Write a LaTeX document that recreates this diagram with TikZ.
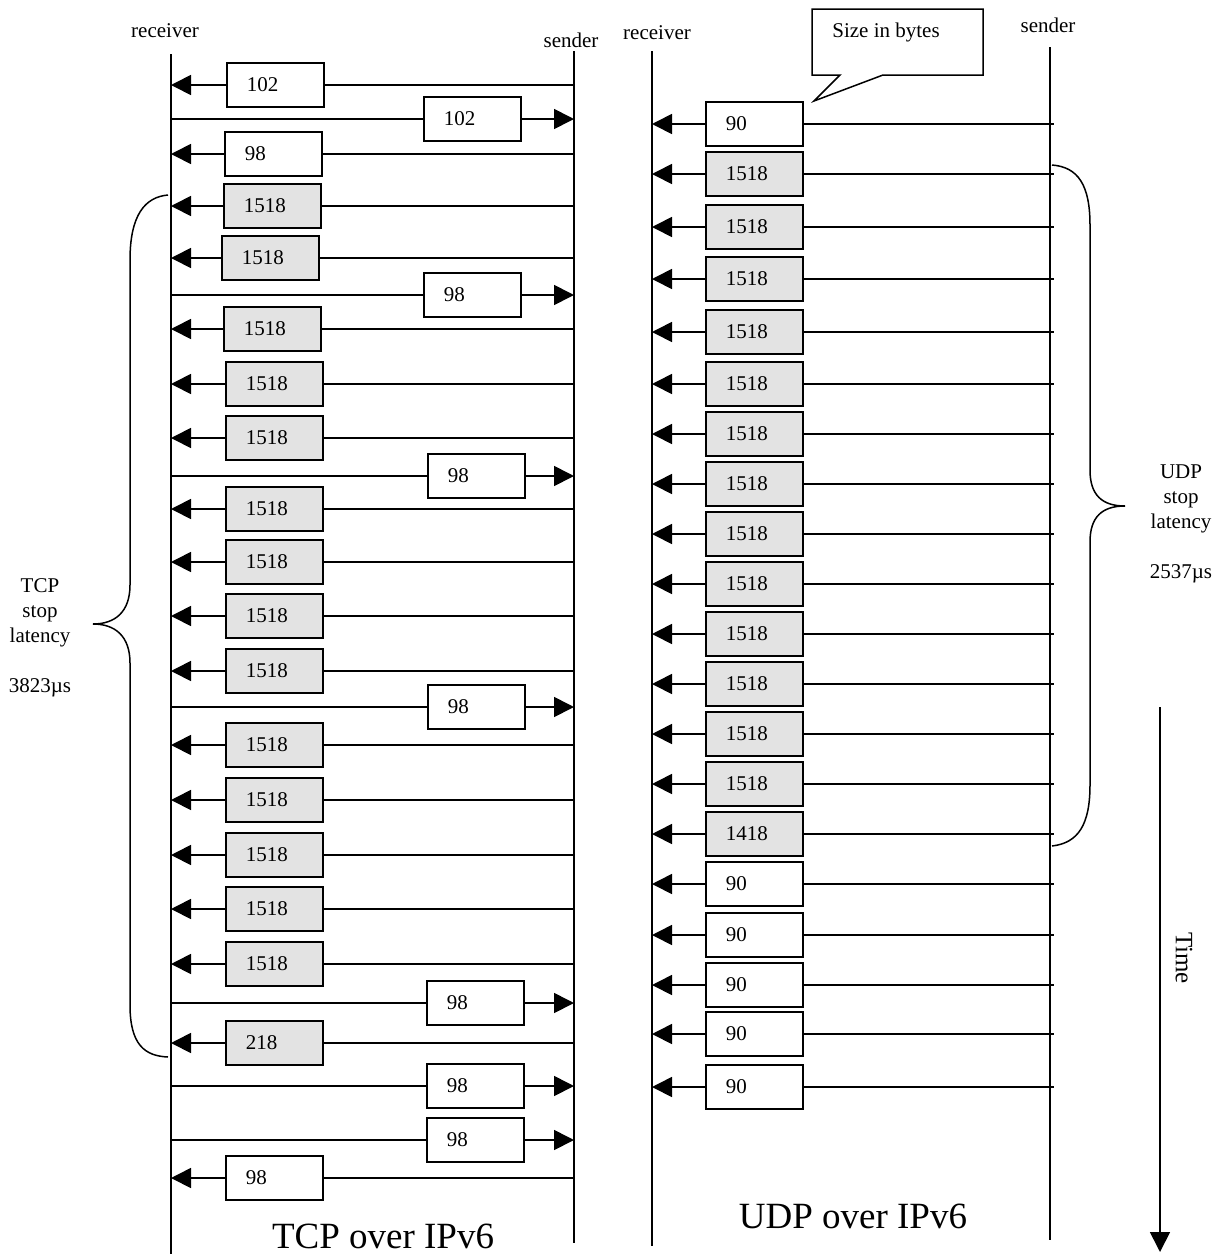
\documentclass[tikz,border=0pt]{standalone}
\usepackage{fontspec}
\setmainfont{Liberation Serif}
\usepackage{xcolor}
\definecolor{pktgray}{HTML}{E3E3E3}
\usetikzlibrary{arrows.meta, positioning, calc}

\begin{document}
\begin{tikzpicture}[
    x=1pt, y=-1pt,
    every node/.style={font=\fontsize{21}{25}\selectfont},
    pkt/.style={draw, line width=1.8pt, fill=white, anchor=west,
                minimum height=44pt, text width=57pt,
                inner xsep=20pt, inner ysep=0pt, align=left},
    msg/.style={line width=1.7pt, -{Triangle[length=20pt, width=20pt]}},
    wire/.style={line width=1.7pt},
    life/.style={line width=1.7pt},
    brace/.style={line width=1.5pt},
    title/.style={font=\fontsize{37}{44}\selectfont},
]
\useasboundingbox (0,0) rectangle (1214,1256);

% --- Lifelines (TCP left, UDP right) ---
\coordinate (tR)  at (171,54);     % TCP receiver
\coordinate (tRb) at (171,1254);
\coordinate (tS)  at (574,51);     % TCP sender
\coordinate (tSb) at (574,1243);
\coordinate (uR)  at (652,51);     % UDP receiver
\coordinate (uRb) at (652,1246);
\coordinate (uS)  at (1050,47);    % UDP sender
\coordinate (uSb) at (1050,1240);
\coordinate (uE)  at (1054,47);    % UDP lines run a bit past the sender

\draw[life] (tR) -- (tRb);
\draw[life] (tS) -- (tSb);
\draw[life] (uR) -- (uRb);
\draw[life] (uS) -- (uSb);

\node (tRlab) at (165,31) {receiver};
\node (tSlab) at (571,40) {sender};
\node (uRlab) at (657,33) {receiver};
\node (uSlab) at (1048,25) {sender};

% --- TCP: packets from sender to receiver ---
\foreach \y/\x/\t/\f [count=\i] in {
    85/226/102/white, 154/224/98/white, 206/223/1518/pktgray,
    258/221/1518/pktgray, 329/223/1518/pktgray, 384/225/1518/pktgray,
    438/225/1518/pktgray, 509/225/1518/pktgray, 562/225/1518/pktgray,
    616/225/1518/pktgray, 671/225/1518/pktgray, 745/225/1518/pktgray,
    800/225/1518/pktgray, 855/225/1518/pktgray, 909/225/1518/pktgray,
    964/225/1518/pktgray, 1043/225/218/pktgray, 1178/225/98/white} {
  \node[pkt, fill=\f] (tl\i) at (\x,\y) {\t};
  \draw[msg]  (tl\i.west) -- (tl\i.west -| tR);
  \draw[wire] (tl\i.east) -- (tl\i.east -| tS);
}

% --- TCP: acks from receiver to sender ---
\foreach \y/\x/\t [count=\i] in {
    119/423/102, 295/423/98, 476/427/98, 707/427/98,
    1003/426/98, 1086/426/98, 1140/426/98} {
  \node[pkt] (tr\i) at (\x,\y) {\t};
  \draw[wire] (tr\i.west) -- (tr\i.west -| tR);
  \draw[msg]  (tr\i.east) -- (tr\i.east -| tS);
}

% --- UDP: datagrams from sender to receiver ---
\foreach \y/\t/\f [count=\i] in {
    124/90/white, 174/1518/pktgray, 227/1518/pktgray, 279/1518/pktgray,
    332/1518/pktgray, 384/1518/pktgray, 434/1518/pktgray, 484/1518/pktgray,
    534/1518/pktgray, 584/1518/pktgray, 634/1518/pktgray, 684/1518/pktgray,
    734/1518/pktgray, 784/1518/pktgray, 834/1418/pktgray, 884/90/white,
    935/90/white, 985/90/white, 1034/90/white, 1087/90/white} {
  \node[pkt, fill=\f] (ul\i) at (705,\y) {\t};
  \draw[msg]  (ul\i.west) -- (ul\i.west -| uR);
  \draw[wire] (ul\i.east) -- (ul\i.east -| uE);
}

% --- Callout ---
\draw[line width=1.5pt, fill=white]
  (812,9) -- (983,9) -- (983,75) -- (883,75) -- (814,101) -- (840,75)
  -- (812,75) -- cycle;
\node (note) at (886,32) {Size in bytes};

% --- Braces with latencies ---
\draw[brace] (168,195) .. controls (145,197) and (130,215) .. (130,260)
  -- (130,585) .. controls (130,612) and (115,624) .. (93,624)
  .. controls (115,624) and (130,636) .. (130,663)
  -- (130,1005) .. controls (130,1045) and (145,1056) .. (168,1057);
\node[align=center] (tcplat) at (40,638) {TCP\\stop\\latency\\[25pt]3823µs};

\draw[brace] (1052,165) .. controls (1078,167) and (1090,185) .. (1090,225)
  -- (1090,470) .. controls (1090,495) and (1102,506) .. (1125,506)
  .. controls (1102,506) and (1090,517) .. (1090,542)
  -- (1090,785) .. controls (1090,825) and (1078,843) .. (1052,846);
\node[align=center] (udplat) at (1181,524) {UDP\\stop\\latency\\[25pt]2537µs};

% --- Time axis ---
\coordinate (tA) at (1160,707);
\coordinate (tB) at (1160,1252);
\draw[msg] (tA) -- (tB);
\node[rotate=-90, font=\fontsize{25}{30}\selectfont] (time) at (1184,958) {Time};

% --- Titles ---
\node[title] (tcpt) at (383,1236) {TCP over IPv6};
\node[title] (udpt) at (853,1216) {UDP over IPv6};
\end{tikzpicture}
\end{document}
